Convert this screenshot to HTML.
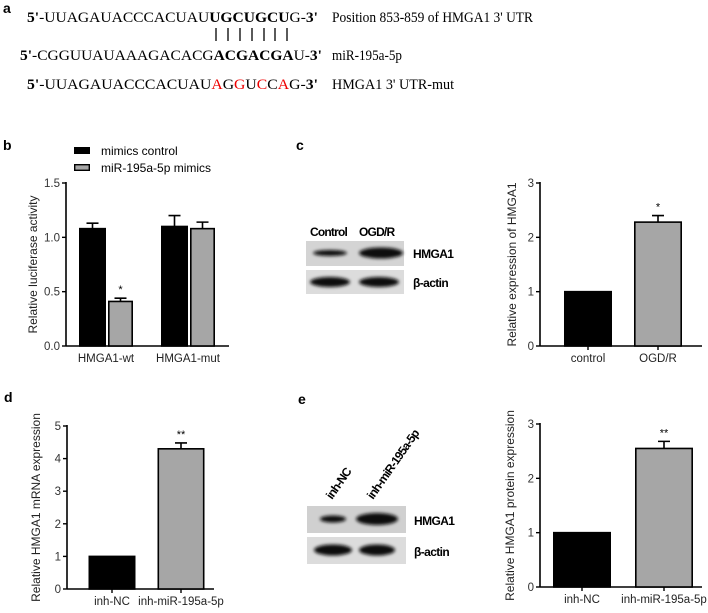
<!DOCTYPE html>
<html><head><meta charset="utf-8">
<style>
body{margin:0;background:#fff;}
svg{display:block;}
.s{font-family:"Liberation Serif",serif;font-size:15px;}
.f{font-family:"Liberation Sans",sans-serif;}
</style></head>
<body>
<svg id="fig" width="708" height="613" viewBox="0 0 708 613" xmlns="http://www.w3.org/2000/svg">
<defs>
<filter id="blur" x="-20%" y="-50%" width="140%" height="200%"><feGaussianBlur stdDeviation="1.6"/></filter>
</defs>
<g>
<text x="3" y="13" class="f" font-size="14" font-weight="bold">a</text>
<text x="27" y="22" class="s" textLength="291" lengthAdjust="spacingAndGlyphs"><tspan font-weight="bold">5'</tspan>-UUAGAUACCCACUAU<tspan font-weight="bold">UGCUGCU</tspan>G-<tspan font-weight="bold">3'</tspan></text>
<g stroke="#000" stroke-width="1.3">
<line x1="216" y1="28" x2="216" y2="41"/><line x1="228" y1="28" x2="228" y2="41"/><line x1="240" y1="28" x2="240" y2="41"/><line x1="252" y1="28" x2="252" y2="41"/><line x1="264" y1="28" x2="264" y2="41"/><line x1="275" y1="28" x2="275" y2="41"/><line x1="287" y1="28" x2="287" y2="41"/>
</g>
<text x="20" y="60" class="s" textLength="302" lengthAdjust="spacingAndGlyphs"><tspan font-weight="bold">5'</tspan>-CGGUUAUAAAGACACG<tspan font-weight="bold">ACGACGA</tspan>U-<tspan font-weight="bold">3'</tspan></text>
<text x="27" y="89" class="s" textLength="291" lengthAdjust="spacingAndGlyphs"><tspan font-weight="bold">5'</tspan>-UUAGAUACCCACUAU<tspan fill="#e00">A</tspan>G<tspan fill="#e00">G</tspan>U<tspan fill="#e00">C</tspan>C<tspan fill="#e00">A</tspan>G-<tspan font-weight="bold">3'</tspan></text>
<text x="332" y="22" class="s" font-size="13" textLength="201" lengthAdjust="spacingAndGlyphs">Position 853-859 of HMGA1 3' UTR</text>
<text x="332" y="60" class="s" font-size="13" textLength="70" lengthAdjust="spacingAndGlyphs">miR-195a-5p</text>
<text x="332" y="89" class="s" font-size="13" textLength="122" lengthAdjust="spacingAndGlyphs">HMGA1 3' UTR-mut</text>
</g>
<text x="3" y="150" class="f" font-size="14" font-weight="bold">b</text>
<text x="296" y="150" class="f" font-size="14" font-weight="bold">c</text>
<text x="4" y="402" class="f" font-size="14" font-weight="bold">d</text>
<text x="298" y="404" class="f" font-size="14" font-weight="bold">e</text>
<rect x="74" y="147" width="16" height="7" fill="#000"/>
<text x="101" y="155" class="f" font-size="12">mimics control</text>
<rect x="74.7" y="164.7" width="14.6" height="5.6" fill="#a6a6a6" stroke="#000" stroke-width="1.4"/>
<text x="101" y="172" class="f" font-size="12">miR-195a-5p mimics</text>
<g>
<text x="310" y="236" class="f" font-size="12" font-weight="bold" letter-spacing="-0.8">Control</text>
<text x="359" y="236" class="f" font-size="12" font-weight="bold" letter-spacing="-0.8">OGD/R</text>
<rect x="306" y="241" width="98" height="25" fill="#d4d4d4"/>
<rect x="306" y="270" width="98" height="24" fill="#dcdcdc"/>
<g filter="url(#blur)" fill="#111">
<ellipse cx="330" cy="253" rx="17" ry="3"/><ellipse cx="381" cy="253" rx="22" ry="5.5"/>
<ellipse cx="330" cy="282" rx="20" ry="5"/><ellipse cx="379" cy="282" rx="20" ry="5"/>
</g>
<text x="413" y="258" class="f" font-size="12" font-weight="bold" letter-spacing="-0.6">HMGA1</text>
<text x="413" y="287" class="f" font-size="12" font-weight="bold" letter-spacing="-0.6">β-actin</text>
</g>
<g>
<text transform="translate(332,500) rotate(-55)" class="f" font-size="12" font-weight="bold" letter-spacing="-0.8">inh-NC</text>
<text transform="translate(373,500) rotate(-55)" class="f" font-size="12" font-weight="bold" letter-spacing="-0.8">inh-miR-195a-5p</text>
<rect x="307" y="506" width="99" height="27" fill="#d0d0d0"/>
<rect x="307" y="537" width="99" height="27" fill="#dcdcdc"/>
<g filter="url(#blur)" fill="#111">
<ellipse cx="333" cy="519" rx="13" ry="3.5"/><ellipse cx="377" cy="519" rx="21" ry="6"/>
<ellipse cx="333" cy="550" rx="19" ry="5.5"/><ellipse cx="377" cy="550" rx="18" ry="5.5"/>
</g>
<text x="414" y="525" class="f" font-size="12" font-weight="bold" letter-spacing="-0.6">HMGA1</text>
<text x="414" y="556" class="f" font-size="12" font-weight="bold" letter-spacing="-0.6">β-actin</text>
</g>
<g id="charts"></g>
</svg>
<script>
// Panel b data
const bCategories = ["HMGA1-wt", "HMGA1-mut"];
const bControl = [1.08, 1.10];
const bControlErr = [0.05, 0.10];
const bMimics = [0.41, 1.08];
const bMimicsErr = [0.03, 0.06];
const bTicks = ["0.0", "0.5", "1.0", "1.5"];
const bStars = ["*", ""];
// Panel c data
const cCategories = ["control", "OGD/R"];
const cValues = [1, 2.28];
const cErr = [0, 0.12];
const cTicks = ["0", "1", "2", "3"];
const cStars = ["", "*"];
// Panel d data
const dCategories = ["inh-NC", "inh-miR-195a-5p"];
const dValues = [1, 4.30];
const dErr = [0, 0.18];
const dTicks = ["0", "1", "2", "3", "4", "5"];
const dStars = ["", "**"];
// Panel e data
const eCategories = ["inh-NC", "inh-miR-195a-5p"];
const eValues = [1, 2.55];
const eErr = [0, 0.13];
const eTicks = ["0", "1", "2", "3"];
const eStars = ["", "**"];

const NS = "http://www.w3.org/2000/svg";
const root = document.getElementById("charts");
function mk(tag, attrs, parent) {
  const el = document.createElementNS(NS, tag);
  for (const k in attrs) el.setAttribute(k, attrs[k]);
  parent.appendChild(el);
  return el;
}
function chart(cfg) {
  const g = mk("g", {}, root);
  
  
  const ticks = cfg.ticks.map(Number);
  const ymax = ticks[ticks.length - 1];
  const y = v => cfg.y0 - (v / ymax) * (cfg.y0 - cfg.yTop);
  const ax = mk("line", {x1: cfg.ax, y1: cfg.yTop - 1, x2: cfg.ax, y2: cfg.y0, stroke: "#000", "stroke-width": 1.6}, g);
  
  
  const xl = mk("line", {x1: cfg.ax, y1: cfg.y0, x2: cfg.axEnd, y2: cfg.y0, stroke: "#000", "stroke-width": 1.6}, g);
  
  
  cfg.ticks.forEach((t, i) => {
    const yy = y(ticks[i]);
    const tl = mk("line", {x1: cfg.ax - 4, y1: yy, x2: cfg.ax, y2: yy, stroke: "#000", "stroke-width": 1.4}, g);
    
    
    const tx = mk("text", {x: cfg.ax - 6, y: yy + 4, "text-anchor": "end", "font-size": 11.5, "font-family": "Liberation Sans, sans-serif", fill: "#333"}, g);
    tx.textContent = t;
    
    
  });
  const yt = mk("text", {transform: `translate(${cfg.titleX},${(cfg.y0 + cfg.yTop) / 2}) rotate(-90)`, "text-anchor": "middle", "font-size": 12, "font-family": "Liberation Sans, sans-serif", fill: "#222"}, g);
  yt.textContent = cfg.title;
  
  
  cfg.categories.forEach((c, i) => {
    const cx = cfg.groupX[i];
    const series = cfg.series;
    series.forEach((s, j) => {
      const x0 = cx - (series.length * cfg.bw) / 2 + j * cfg.bw + (j > 0 ? cfg.gap : 0);
      const v = s.values[i], e = s.err[i];
      const top = y(v);
      const fill = s.fills ? s.fills[i] : s.fill;
      const r = mk("rect", {x: x0 + 0.8, y: top, width: cfg.bw - 1.6 - (j > 0 ? cfg.gap : 0), height: cfg.y0 - top, fill: fill, stroke: "#000", "stroke-width": 1.6}, g);
      
      
      const mid = x0 + (cfg.bw - (j > 0 ? cfg.gap : 0)) / 2;
      if (e > 0) {
        const ey = y(v + e);
        const el = mk("path", {d: `M${mid},${top}V${ey}M${mid - 6},${ey}H${mid + 6}`, stroke: "#000", "stroke-width": 1.6, fill: "none"}, g);
        
        
      }
      if (s.stars && s.stars[i]) {
        const st = mk("text", {x: mid, y: y(v + e) - 5, "text-anchor": "middle", "font-size": 11, "font-family": "Liberation Sans, sans-serif"}, g);
        st.textContent = s.stars[i];
        
        
      }
    });
    if (cfg.xticks) {
      const xt = mk("line", {x1: cx, y1: cfg.y0, x2: cx, y2: cfg.y0 + 4, stroke: "#000", "stroke-width": 1.4}, g);
      
      
    }
    const lt = mk("text", {x: cx, y: cfg.y0 + 16, "text-anchor": "middle", "font-size": 11.5, "font-family": "Liberation Sans, sans-serif", fill: "#222"}, g);
    lt.textContent = c;
    
    
  });
}
const pair = ["#000", "#a6a6a6"];
chart({name: "chart-b", ax: 66, axEnd: 229, y0: 346, yTop: 183, ticks: bTicks, title: "Relative luciferase activity", titleX: 37,
  categories: bCategories, groupX: [106, 188], bw: 27, gap: 2, xticks: false,
  series: [{key: "mimics-control", values: bControl, err: bControlErr, fill: "#000"},
           {key: "mir-mimics", values: bMimics, err: bMimicsErr, fill: "#a6a6a6", stars: bStars}]});
chart({name: "chart-c", ax: 540, axEnd: 702, y0: 346, yTop: 183, ticks: cTicks, title: "Relative expression of HMGA1", titleX: 516,
  categories: cCategories, groupX: [588, 658], bw: 48, gap: 0, xticks: true,
  series: [{key: "expression", values: cValues, err: cErr, fills: pair, stars: cStars}]});
chart({name: "chart-d", ax: 67, axEnd: 214, y0: 589, yTop: 426, ticks: dTicks, title: "Relative HMGA1 mRNA expression", titleX: 40,
  categories: dCategories, groupX: [112, 181], bw: 47, gap: 0, xticks: true,
  series: [{key: "mrna", values: dValues, err: dErr, fills: pair, stars: dStars}]});
chart({name: "chart-e", ax: 540, axEnd: 702, y0: 587, yTop: 424, ticks: eTicks, title: "Relative HMGA1 protein expression", titleX: 514,
  categories: eCategories, groupX: [582, 664], bw: 58, gap: 0, xticks: true,
  series: [{key: "protein", values: eValues, err: eErr, fills: pair, stars: eStars}]});
</script>
</body></html>
